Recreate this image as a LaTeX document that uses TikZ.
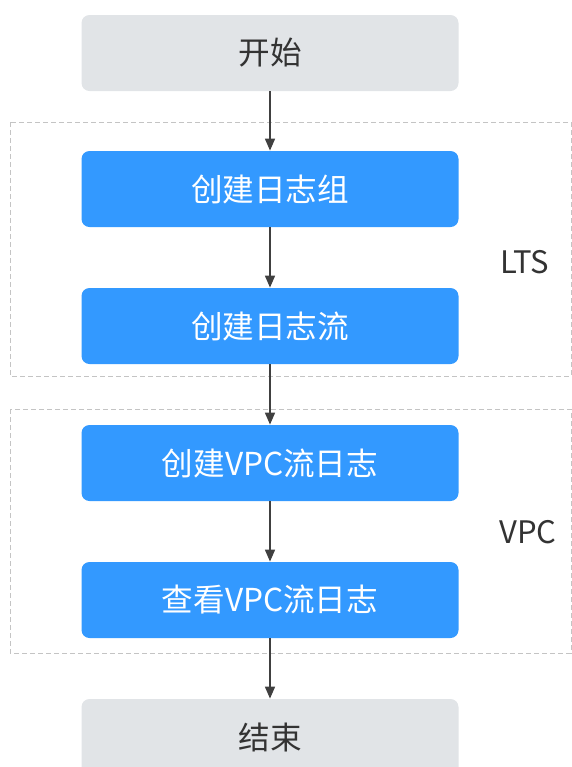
\documentclass[tikz,border=0pt]{standalone}
\usepackage{fontspec}
\setmainfont{Noto Sans CJK SC}
\usetikzlibrary{arrows.meta,positioning}
\definecolor{ink}{HTML}{333333}
\definecolor{cblue}{HTML}{3399FF}
\definecolor{cgrey}{HTML}{E1E4E7}
\definecolor{cdash}{HTML}{C4C4C4}
\definecolor{carrow}{HTML}{404040}
\tikzset{
  every node/.style={text=ink},
  % one box style; the argument is the fill colour (cgrey start/end, cblue steps)
  box/.style={fill=#1, draw=none, rounded corners=4pt, minimum width=188.5pt, minimum height=38pt,
              inner sep=0pt, font=\fontsize{15.8}{18}\selectfont},
  stepbox/.style={box=cblue, text=white},
  grp/.style={draw=cdash, dashed, line width=0.5pt, dash pattern=on 2.5pt off 1.5pt},
  tag/.style={font=\fontsize{15.5}{17}\selectfont, text=ink},
  arr/.style={-{Triangle[length=6pt,width=5pt]}, line width=0.8pt, color=carrow},
}
\begin{document}
\begin{tikzpicture}[x=0.5pt,y=-0.5pt]
  \useasboundingbox (0,0) rectangle (572,767);
  % groups
  \draw[grp] (10,122) rectangle (571,376);
  \draw[grp] (10,409) rectangle (571,653);
  \node[tag] (lts) at (525,262) {LTS};
  \node[tag] (vpc) at (528,532) {VPC};

  \node[box=cgrey] (start) at (270,53)  {开始};
  \node[stepbox]   (group) at (270,189) {创建日志组};
  \node[stepbox]   (flow)  at (270,326) {创建日志流};
  \node[stepbox]   (mkvpc) at (270,463) {创建VPC流日志};
  \node[stepbox]   (show)  at (270,600) {查看VPC流日志};
  \node[box=cgrey] (stop)  at (270,737) {结束};

  \draw[arr] (start) -- (group);
  \draw[arr] (group) -- (flow);
  \draw[arr] (flow) -- (mkvpc);
  \draw[arr] (mkvpc) -- (show);
  \draw[arr] (show) -- (stop);
\end{tikzpicture}
\end{document}
